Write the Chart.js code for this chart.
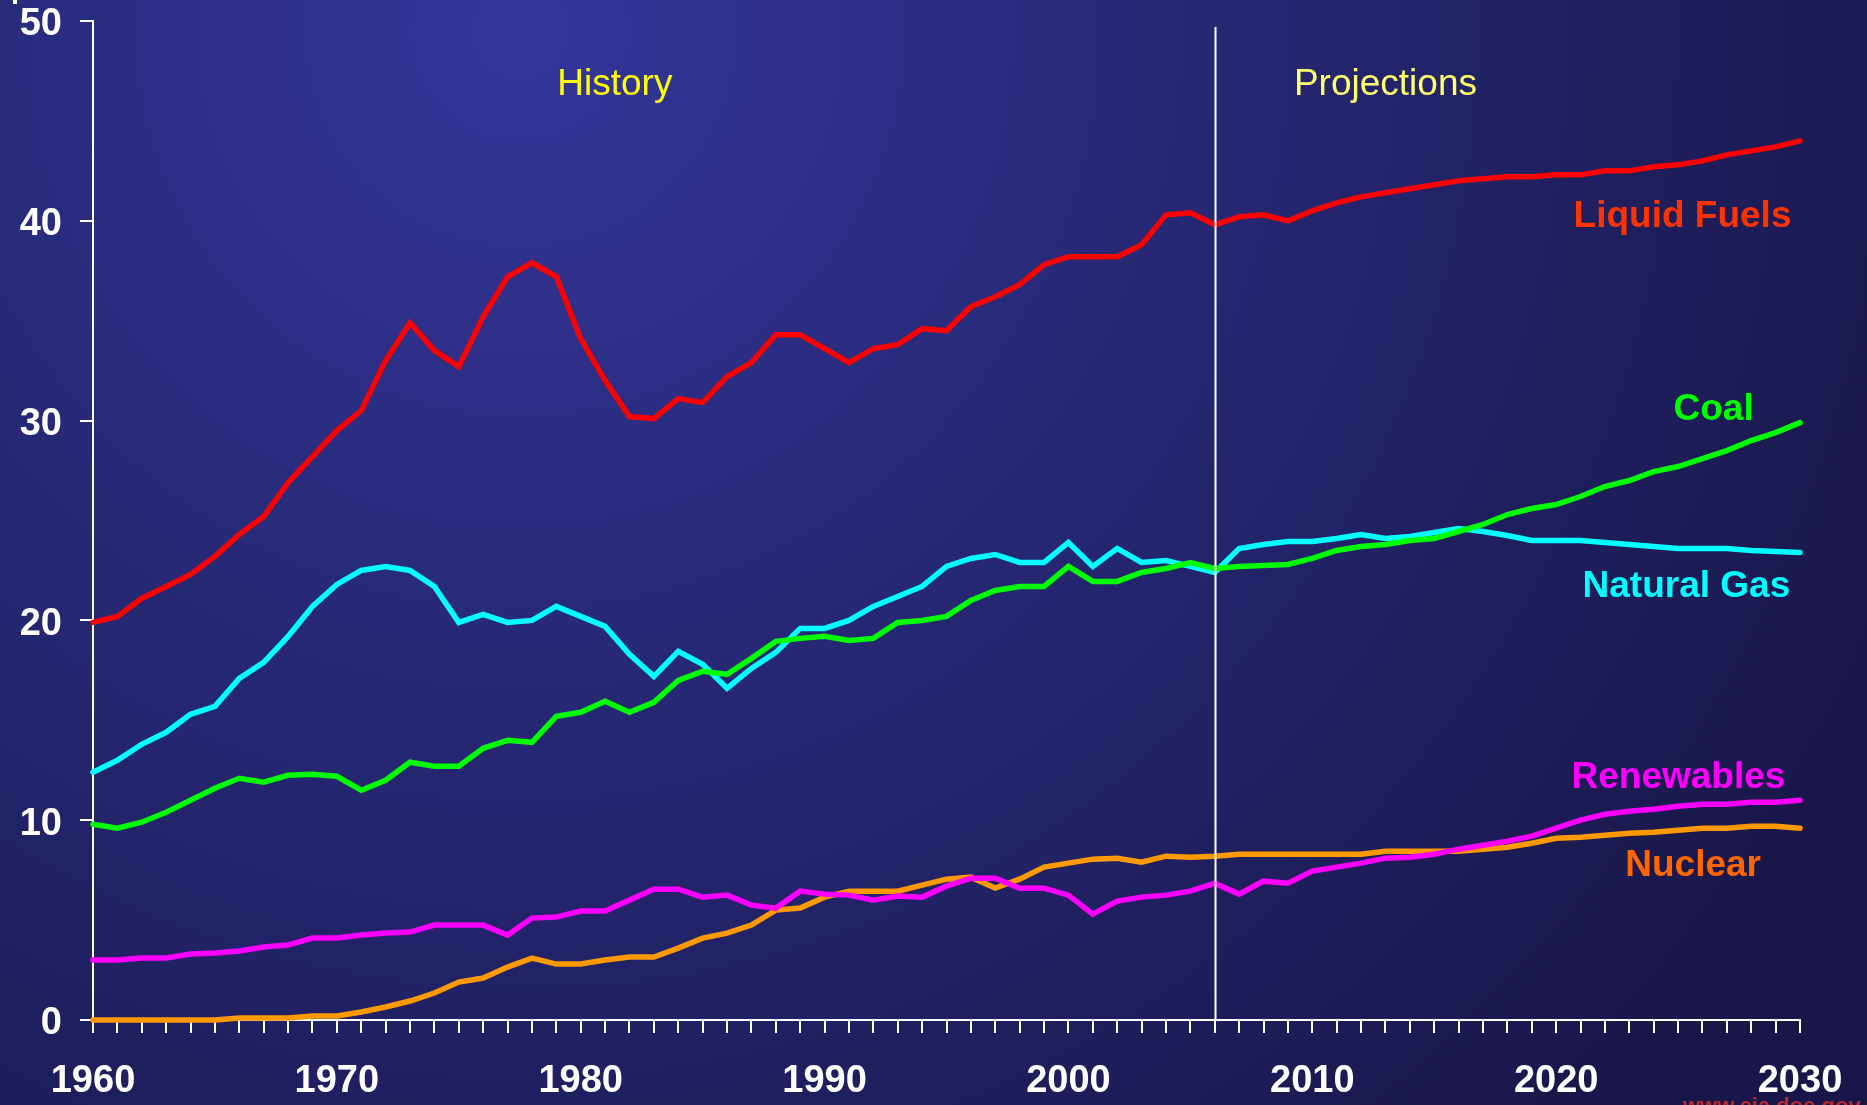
<!DOCTYPE html>
<html>
<head>
<meta charset="utf-8">
<script src="https://cdn.jsdelivr.net/npm/chart.js@4.4.1/dist/chart.umd.min.js"></script>
<style>
  html, body { margin: 0; padding: 0; background: #1d1b52; overflow: hidden; }
  #wrap { width: 1867px; height: 1105px; }
</style>
</head>
<body>
<div id="wrap"><canvas id="chart" width="1867" height="1105"></canvas></div>
<script>
// years shown on the x axis, one point per year
const years = [
  1960, 1961, 1962, 1963, 1964, 1965, 1966, 1967, 1968, 1969,
  1970, 1971, 1972, 1973, 1974, 1975, 1976, 1977, 1978, 1979,
  1980, 1981, 1982, 1983, 1984, 1985, 1986, 1987, 1988, 1989,
  1990, 1991, 1992, 1993, 1994, 1995, 1996, 1997, 1998, 1999,
  2000, 2001, 2002, 2003, 2004, 2005, 2006, 2007, 2008, 2009,
  2010, 2011, 2012, 2013, 2014, 2015, 2016, 2017, 2018, 2019,
  2020, 2021, 2022, 2023, 2024, 2025, 2026, 2027, 2028, 2029,
  2030
];

const liquidFuels = [
  19.9, 20.2, 21.1, 21.7, 22.3, 23.2, 24.3, 25.2, 26.9, 28.2,
  29.5, 30.5, 33.0, 34.9, 33.5, 32.7, 35.2, 37.2, 37.9, 37.2,
  34.1, 32.0, 30.2, 30.1, 31.1, 30.9, 32.2, 32.9, 34.3, 34.3,
  33.6, 32.9, 33.6, 33.8, 34.6, 34.5, 35.7, 36.2, 36.8, 37.8,
  38.2, 38.2, 38.2, 38.8, 40.3, 40.4, 39.8, 40.2, 40.3, 40.0,
  40.5, 40.9, 41.2, 41.4, 41.6, 41.8, 42.0, 42.1, 42.2, 42.2,
  42.3, 42.3, 42.5, 42.5, 42.7, 42.8, 43.0, 43.3, 43.5, 43.7,
  44.0
];

const coal = [
  9.8, 9.6, 9.9, 10.4, 11.0, 11.6, 12.1, 11.9, 12.25, 12.3,
  12.2, 11.5, 12.0, 12.9, 12.7, 12.7, 13.6, 14.0, 13.9, 15.2,
  15.4, 15.95, 15.4, 15.9, 17.0, 17.45, 17.3, 18.1, 18.95, 19.1,
  19.2, 19.0, 19.1, 19.9, 20.0, 20.2, 21.0, 21.5, 21.7, 21.7,
  22.7, 21.95, 21.95, 22.4, 22.6, 22.9, 22.6, 22.7, 22.75, 22.8,
  23.1, 23.5, 23.7, 23.8, 24.0, 24.1, 24.45, 24.8, 25.3, 25.6,
  25.8, 26.2, 26.7, 27.0, 27.45, 27.7, 28.1, 28.5, 29.0, 29.4,
  29.9
];

const naturalGas = [
  12.4, 13.0, 13.8, 14.4, 15.3, 15.7, 17.1, 17.9, 19.2, 20.7,
  21.8, 22.5, 22.7, 22.5, 21.7, 19.9, 20.3, 19.9, 20.0, 20.7,
  20.2, 19.7, 18.3, 17.2, 18.45, 17.8, 16.6, 17.6, 18.4, 19.6,
  19.6, 20.0, 20.7, 21.2, 21.7, 22.7, 23.1, 23.3, 22.9, 22.9,
  23.9, 22.7, 23.6, 22.9, 23.0, 22.7, 22.4, 23.6, 23.8, 23.95,
  23.95, 24.1, 24.3, 24.1, 24.2, 24.4, 24.6, 24.45, 24.25, 24.0,
  24.0, 24.0, 23.9, 23.8, 23.7, 23.6, 23.6, 23.6, 23.5, 23.45,
  23.4
];

const renewables = [
  3.0, 3.0, 3.1, 3.1, 3.3, 3.35, 3.45, 3.65, 3.75, 4.1,
  4.1, 4.25, 4.35, 4.4, 4.75, 4.75, 4.75, 4.25, 5.1, 5.15,
  5.45, 5.45, 6.0, 6.55, 6.55, 6.15, 6.25, 5.75, 5.6, 6.45,
  6.3, 6.25, 6.0, 6.2, 6.15, 6.7, 7.1, 7.1, 6.6, 6.6,
  6.25, 5.3, 5.95, 6.15, 6.25, 6.45, 6.85, 6.3, 6.95, 6.85,
  7.45, 7.65, 7.85, 8.1, 8.15, 8.3, 8.55, 8.75, 8.95, 9.2,
  9.6, 10.0, 10.3, 10.45, 10.55, 10.7, 10.8, 10.8, 10.9, 10.9,
  11.0
];

const nuclear = [
  0, 0, 0, 0, 0, 0, 0.1, 0.1, 0.1, 0.2,
  0.2, 0.4, 0.65, 0.95, 1.35, 1.9, 2.1, 2.65, 3.1, 2.8,
  2.8, 3.0, 3.15, 3.15, 3.6, 4.1, 4.35, 4.75, 5.5, 5.6,
  6.15, 6.45, 6.45, 6.45, 6.75, 7.05, 7.15, 6.6, 7.05, 7.65,
  7.85, 8.05, 8.1, 7.9, 8.2, 8.15, 8.2, 8.3, 8.3, 8.3,
  8.3, 8.3, 8.3, 8.45, 8.45, 8.45, 8.45, 8.55, 8.65, 8.85,
  9.1, 9.15, 9.25, 9.35, 9.4, 9.5, 9.6, 9.6, 9.7, 9.7,
  9.6
];

const xLabelYears = [1960, 1970, 1980, 1990, 2000, 2010, 2020, 2030];
const yTicks = [0, 10, 20, 30, 40, 50];
const splitYear = 2006;

const series = [
  { name: "Liquid Fuels", values: liquidFuels, line: "#ff0000" },
  { name: "Coal", values: coal, line: "#00ff00" },
  { name: "Natural Gas", values: naturalGas, line: "#00ffff" },
  { name: "Renewables", values: renewables, line: "#ff00ff" },
  { name: "Nuclear", values: nuclear, line: "#ff9900" },
];

// where the text labels sit, in data units (year, value)
const seriesLabels = [
  { text: "Liquid Fuels", x: 2029.65, y: 40.35, color: "#ff3300" },
  { text: "Coal", x: 2028.1, y: 30.7, color: "#00ff00" },
  { text: "Natural Gas", x: 2029.6, y: 21.85, color: "#00ffff" },
  { text: "Renewables", x: 2029.4, y: 12.25, color: "#ff00ff" },
  { text: "Nuclear", x: 2028.4, y: 7.85, color: "#ff6600" },
];
const periodLabels = [
  { text: "History", x: 1981.4, y: 46.95, color: "#ffff00" },
  { text: "Projections", x: 2013.0, y: 46.95, color: "#ffff70" },
];

const FONT = "'Liberation Sans', Arial, Helvetica, sans-serif";
const TEXT_DY = 3; // 'middle' baseline sits a bit high for digits/caps

const backgroundPlugin = {
  id: "bg",
  beforeDraw(chart) {
    const { ctx, width, height } = chart;
    ctx.save();
    const g = ctx.createRadialGradient(520, 30, 0, 520, 30, 1500);
    g.addColorStop(0, "#34369b");
    g.addColorStop(0.45, "#262874");
    g.addColorStop(1, "#19174a");
    ctx.fillStyle = g;
    ctx.fillRect(0, 0, width, height);
    // remnant of a cut-off title in the corner
    ctx.fillStyle = "#ffffff";
    ctx.fillRect(13, 0, 4, 4);
    ctx.restore();
  },
};

const overlayPlugin = {
  id: "overlay",
  afterDatasetsDraw(chart) {
    const { ctx, scales } = chart;
    const xs = scales.x;
    const ys = scales.y;
    ctx.save();

    // divider between history and projections
    const px = Math.round(xs.getPixelForValue(splitYear)) + 0.5;
    ctx.strokeStyle = "#ffffff";
    ctx.lineWidth = 2;
    ctx.beginPath();
    ctx.moveTo(px, ys.getPixelForValue(49.7));
    ctx.lineTo(px, ys.getPixelForValue(0));
    ctx.stroke();

    ctx.textBaseline = "middle";
    ctx.font = "37px " + FONT;
    ctx.textAlign = "center";
    periodLabels.forEach((l) => {
      ctx.fillStyle = l.color;
      ctx.fillText(l.text, xs.getPixelForValue(l.x), ys.getPixelForValue(l.y) + TEXT_DY);
    });

    ctx.font = "bold 37px " + FONT;
    ctx.textAlign = "right";
    seriesLabels.forEach((l) => {
      ctx.fillStyle = l.color;
      ctx.fillText(l.text, xs.getPixelForValue(l.x), ys.getPixelForValue(l.y) + TEXT_DY);
    });

    // source line, mostly cut off at the bottom edge
    ctx.font = "bold 22px " + FONT;
    ctx.textAlign = "left";
    ctx.textBaseline = "alphabetic";
    ctx.fillStyle = "#b8282e";
    ctx.fillText("www.eia.doe.gov", 1683, 1113);
    ctx.restore();
  },
};

const ctx = document.getElementById("chart").getContext("2d");
new Chart(ctx, {
  type: "line",
  data: {
    datasets: series.map((s) => ({
      label: s.name,
      data: s.values.map((v, i) => ({ x: years[i], y: v })),
      borderColor: s.line,
      backgroundColor: s.line,
      borderWidth: 5.5,
      borderCapStyle: "round",
      borderJoinStyle: "miter",
      pointRadius: 0,
      tension: 0,
      clip: false,
    })),
  },
  options: {
    responsive: false,
    animation: false,
    devicePixelRatio: 1,
    layout: { padding: { top: 21, right: 67, left: 0, bottom: 0 } },
    plugins: {
      legend: { display: false },
      tooltip: { enabled: false },
    },
    scales: {
      x: {
        type: "linear",
        min: 1960,
        max: 2030,
        ticks: {
          stepSize: 1,
          autoSkip: false,
          maxRotation: 0,
          minRotation: 0,
          padding: 26,
          color: "#ffffff",
          font: { family: FONT, size: 38, weight: "bold" },
          callback: (v) => (xLabelYears.includes(v) ? String(v) : ""),
        },
        grid: {
          drawOnChartArea: false,
          drawTicks: true,
          tickLength: 13,
          color: "#ffffff",
          lineWidth: 2,
        },
        border: { display: true, color: "#ffffff", width: 2 },
        afterFit(scale) {
          scale.height = 85;
          scale.paddingLeft = 0;
          scale.paddingRight = 0;
        },
      },
      y: {
        min: 0,
        max: 50,
        afterBuildTicks(scale) {
          scale.ticks = yTicks.map((v) => ({ value: v }));
        },
        ticks: {
          padding: 18,
          labelOffset: 4,
          color: "#ffffff",
          font: { family: FONT, size: 38, weight: "bold" },
        },
        grid: {
          drawOnChartArea: false,
          drawTicks: true,
          tickLength: 13,
          color: "#ffffff",
          lineWidth: 2,
        },
        border: { display: true, color: "#ffffff", width: 2 },
        afterFit(scale) {
          scale.width = 93;
          scale.paddingTop = 0;
          scale.paddingBottom = 0;
        },
      },
    },
  },
  plugins: [backgroundPlugin, overlayPlugin],
});
</script>
</body>
</html>
